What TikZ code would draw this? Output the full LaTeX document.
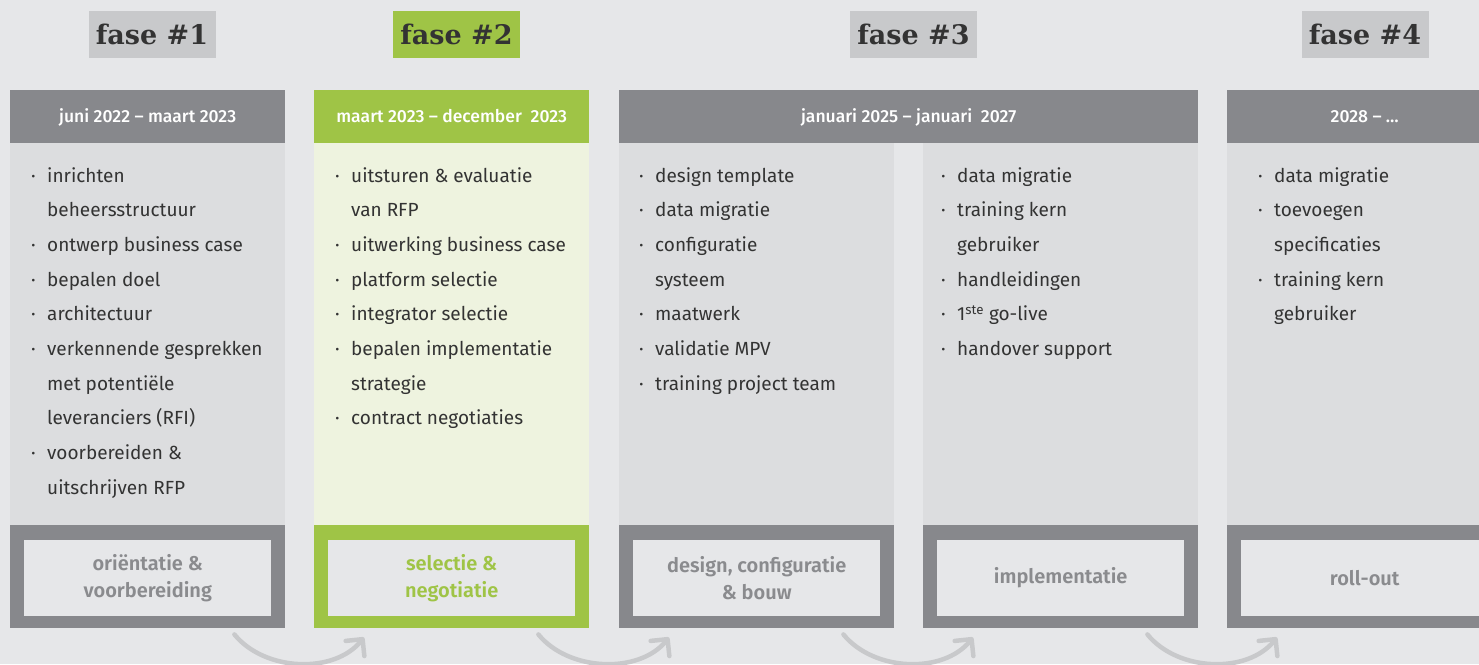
\documentclass[tikz,border=0pt]{standalone}
\usepackage{fontspec}
\setmainfont{Fira Sans}[BoldFont=Fira Sans SemiBold]
\newfontfamily\kopfont{Fira Sans Medium}
\newfontfamily\fasefont{DejaVu Serif}[BoldFont=DejaVu Serif Bold]
\usetikzlibrary{arrows.meta}

\definecolor{achter}{HTML}{E6E7E9}
\definecolor{donker}{HTML}{87888C}
\definecolor{licht}{HTML}{DCDDDF}
\definecolor{groen}{HTML}{9FC446}
\definecolor{groenlicht}{HTML}{EEF3DF}
\definecolor{fasegrijs}{HTML}{C8C9CB}
\definecolor{tekst}{HTML}{333333}
\definecolor{labelgrijs}{HTML}{8A8B8E}

% bullet line and continuation line
\newcommand\itm[1]{\makebox[16pt][l]{·}#1}
\newcommand\vrv[1]{\hspace*{16pt}#1}

\begin{document}
\begin{tikzpicture}[x=1pt,y=1pt,
      fase/.style ={fill=fasegrijs, minimum width=127pt, minimum height=47pt, inner sep=0pt,
                    font=\fasefont\bfseries\fontsize{27}{30}\selectfont, text=tekst},
      kop/.style  ={fill=donker, anchor=north west, minimum height=53pt, inner sep=0pt,
                    text height=14pt, text depth=2pt,
                    font=\kopfont\fontsize{17.5}{20}\selectfont, text=white},
      lijf/.style ={fill=licht, anchor=north west, minimum width=275pt, minimum height=382pt, inner sep=0pt},
      lijst/.style={anchor=north west, align=left, inner sep=0pt, text=tekst,
                    font=\fontsize{19}{34.67}\selectfont},
      kader/.style={fill=donker, anchor=north west, minimum width=275pt, minimum height=103pt, inner sep=0pt},
      naam/.style ={fill=achter, minimum width=247pt, minimum height=76pt, inner sep=0pt, align=center,
                    font=\bfseries\fontsize{20}{27}\selectfont, text=labelgrijs},
      pijl/.style ={draw=fasegrijs, line width=4.5pt, line cap=round,
                    -{Straight Barb[angle=90:17pt, round]}}]
   \fill[achter] (0,0) rectangle (1479,-664);
   \useasboundingbox (0,0) rectangle (1479,-664);
   \clip (0,0) rectangle (1479,-664);

   % fase labels
   \node[fase] (fase1) at (152,-34.5) {fase \#1};
   \node[fase, fill=groen] (fase2) at (456.5,-34.5) {fase \#2};
   \node[fase] (fase3) at (913.5,-34.5) {fase \#3};
   \node[fase] (fase4) at (1365,-34.5) {fase \#4};

   % kolommen
   \node[kop, minimum width=275pt] (k1) at (10,-90) {juni 2022 – maart 2023};
   \node[kop, minimum width=275pt, fill=groen] (k2) at (314,-90) {maart 2023 – december\ \ 2023};
   \node[kop, minimum width=579pt] (k3) at (619,-90) {januari 2025 – januari\ \ 2027};
   \node[kop, minimum width=275pt] (k4) at (1227,-90) {2028 – \dots};

   \node[lijf] (b1) at (10,-143) {};
   \node[lijf, fill=groenlicht] (b2) at (314,-143) {};
   \node[lijf] (b3) at (619,-143) {};
   \node[lijf] (b3b) at (923,-143) {};
   \node[lijf] (b4) at (1227,-143) {};

   \node[lijst] (t1) at (31,-167) {\itm{inrichten}\\ \vrv{beheersstructuur}\\ \itm{ontwerp business case}\\
      \itm{bepalen doel}\\ \itm{architectuur}\\ \itm{verkennende gesprekken}\\ \vrv{met potentiële}\\
      \vrv{leveranciers (RFI)}\\ \itm{voorbereiden \&}\\ \vrv{uitschrijven RFP}};
   \node[lijst] (t2) at (335,-167) {\itm{uitsturen \& evaluatie}\\ \vrv{van RFP}\\ \itm{uitwerking business case}\\
      \itm{platform selectie}\\ \itm{integrator selectie}\\ \itm{bepalen implementatie}\\ \vrv{strategie}\\
      \itm{contract negotiaties}};
   \node[lijst] (t3) at (639,-167) {\itm{design template}\\ \itm{data migratie}\\ \itm{configuratie}\\
      \vrv{systeem}\\ \itm{maatwerk}\\ \itm{validatie MPV}\\ \itm{training project team}};
   \node[lijst] (t3b) at (941,-167) {\itm{data migratie}\\ \itm{training kern}\\ \vrv{gebruiker}\\
      \itm{handleidingen}\\ \itm{1\textsuperscript{ste} go-live}\\ \itm{handover support}};
   \node[lijst] (t4) at (1258,-167) {\itm{data migratie}\\ \itm{toevoegen}\\ \vrv{specificaties}\\
      \itm{training kern}\\ \vrv{gebruiker}};

   % onderste kaders
   \node[kader] (f1) at (10,-525) {};
   \node[kader, fill=groen] (f2) at (314,-525) {};
   \node[kader] (f3) at (619,-525) {};
   \node[kader] (f3b) at (923,-525) {};
   \node[kader] (f4) at (1227,-525) {};
   \node[naam] (n1) at ([yshift=-1pt]f1.center) {oriëntatie \&\\ voorbereiding};
   \node[naam, text=groen] (n2) at ([yshift=-1pt]f2.center) {selectie \&\\ negotiatie};
   \node[naam] (n3) at ([yshift=-1pt]f3.center) {design, configuratie\\ \& bouw};
   \node[naam] (n3b) at ([yshift=-1pt]f3b.center) {implementatie};
   \node[naam] (n4) at ([yshift=-1pt]f4.center) {roll-out};

   % pijlen
   \draw[pijl] ([xshift=-51pt,yshift=-6pt]f1.south east) .. controls +(30,-37) and +(-30,-37) .. ([xshift=50pt,yshift=-9pt]f2.south west);
   \draw[pijl] ([xshift=-51pt,yshift=-6pt]f2.south east) .. controls +(30,-37) and +(-30,-37) .. ([xshift=50pt,yshift=-9pt]f3.south west);
   \draw[pijl] ([xshift=-51pt,yshift=-6pt]f3.south east) .. controls +(30,-37) and +(-30,-37) .. ([xshift=50pt,yshift=-9pt]f3b.south west);
   \draw[pijl] ([xshift=-51pt,yshift=-6pt]f3b.south east) .. controls +(30,-37) and +(-30,-37) .. ([xshift=50pt,yshift=-9pt]f4.south west);
\end{tikzpicture}
\end{document}
